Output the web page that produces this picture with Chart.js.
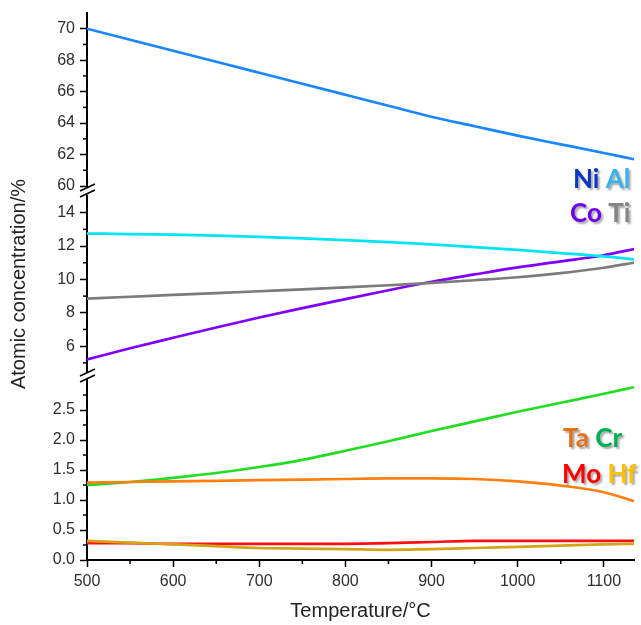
<!DOCTYPE html>
<html><head><meta charset="utf-8">
<script src="https://cdn.jsdelivr.net/npm/chart.js@4.4.0/dist/chart.umd.min.js"></script>
<style>
html,body{margin:0;padding:0;background:#fff;}
#wrap{position:relative;width:641px;height:625px;overflow:hidden;background:#fff;}
#wrap canvas{position:absolute;left:0;top:0;}
</style></head><body>
<div id="wrap">
<canvas id="c1" width="641" height="625"></canvas>
<canvas id="c2" width="641" height="625"></canvas>
<canvas id="c3" width="641" height="625"></canvas>
</div>
<script>
// ---- data ----
const temperatures = [500, 550, 600, 650, 700, 750, 800, 850, 900, 950, 1000, 1050, 1100, 1135];
const ni = [70.0, 69.3, 68.6, 67.9, 67.2, 66.5, 65.8, 65.1, 64.4, 63.8, 63.2, 62.65, 62.1, 61.7];
const al = [12.75, 12.72, 12.68, 12.62, 12.55, 12.46, 12.36, 12.24, 12.1, 11.94, 11.77, 11.58, 11.38, 11.2];
const co = [5.2, 5.87, 6.5, 7.12, 7.72, 8.28, 8.82, 9.35, 9.86, 10.3, 10.72, 11.08, 11.45, 11.82];
const ti = [8.85, 8.96, 9.07, 9.18, 9.29, 9.4, 9.52, 9.65, 9.79, 9.95, 10.13, 10.38, 10.7, 11.0];
const cr = [1.25, 1.3, 1.37, 1.45, 1.55, 1.67, 1.82, 1.98, 2.15, 2.31, 2.47, 2.62, 2.77, 2.88];
const ta = [1.29, 1.3, 1.31, 1.32, 1.33, 1.34, 1.35, 1.36, 1.36, 1.35, 1.31, 1.24, 1.13, 0.98];
const mo = [0.28, 0.28, 0.27, 0.27, 0.27, 0.27, 0.27, 0.28, 0.30, 0.32, 0.32, 0.32, 0.32, 0.32];
const hf = [0.32, 0.29, 0.26, 0.23, 0.20, 0.19, 0.18, 0.17, 0.18, 0.20, 0.22, 0.24, 0.26, 0.27];

const xTickValues = [500, 600, 700, 800, 900, 1000, 1100];
const xMinorValues = [550, 650, 750, 850, 950, 1050];
const topTickValues = [60, 62, 64, 66, 68, 70];
const topMinorValues = [61, 63, 65, 67, 69];
const midTickValues = [6, 8, 10, 12, 14];
const midMinorValues = [5, 7, 9, 11, 13];
const lowTickValues = [0, 0.5, 1.0, 1.5, 2.0, 2.5];
const lowMinorValues = [0.25, 0.75, 1.25, 1.75, 2.25, 2.75];

const FONT = "'Liberation Sans', Arial, sans-serif";
const LABEL_FONT = "bold 26px Lato, 'Open Sans', sans-serif";

function series(values, color) {
  return {
    data: temperatures.map((t, i) => ({x: t, y: values[i]})),
    borderColor: color, borderWidth: 2.7, pointRadius: 0, fill: false,
    tension: 0.4, cubicInterpolationMode: 'monotone'
  };
}

const extras = {
  id: 'extras',
  afterDraw(chart, args, o) {
    const ctx = chart.ctx, ys = chart.scales.y, xs = chart.scales.x;
    const ax = chart.chartArea.left;
    ctx.save();
    ctx.strokeStyle = '#000'; ctx.lineWidth = 1.5; ctx.lineCap = 'butt';
    const seg = (x1, y1, x2, y2) => { ctx.beginPath(); ctx.moveTo(x1, y1); ctx.lineTo(x2, y2); ctx.stroke(); };
    (o.yMinor || []).forEach(v => { const p = ys.getPixelForValue(v); seg(ax - 4, p, ax, p); });
    if (o.xMinor) o.xMinor.forEach(v => { const p = xs.getPixelForValue(v); seg(p, chart.chartArea.bottom, p, chart.chartArea.bottom + 4); });
    (o.breaks || []).forEach(yc => {
      ctx.lineWidth = 1.6;
      seg(ax - 7, yc + 1, ax + 8, yc - 6);
      seg(ax - 7, yc + 7, ax + 8, yc);
    });
    (o.labels || []).forEach(l => {
      ctx.font = LABEL_FONT;
      ctx.textBaseline = 'alphabetic'; ctx.textAlign = 'left';
      let x = l.x;
      l.parts.forEach(p => {
        ctx.shadowColor = 'rgba(0,0,0,0.35)'; ctx.shadowOffsetX = 2; ctx.shadowOffsetY = 2; ctx.shadowBlur = 2;
        ctx.fillStyle = p.color;
        ctx.fillText(p.text, x, l.y);
        x += ctx.measureText(p.text + ' ').width;
      });
      ctx.shadowColor = 'transparent';
    });
    ctx.restore();
  }
};

function yScale(min, max, tickValues, fmt, title) {
  return {
    type: 'linear', position: 'left', min: min, max: max,
    afterBuildTicks: s => { s.ticks = tickValues.map(v => ({value: v})); },
    afterFit: s => { s.width = 87; },
    border: {display: true, color: '#000', width: 2},
    grid: {drawOnChartArea: false, drawTicks: true, tickLength: 7, tickColor: '#000', tickWidth: 1.5},
    ticks: {color: '#2e2e2e', autoSkip: false, padding: 5, font: {family: FONT, size: 16, lineHeight: 1}, callback: fmt},
    title: title || {display: false}
  };
}

function hiddenX() {
  return {type: 'linear', min: 500, max: 1135, display: false};
}

function make(id, datasets, yOpts, xOpts, padding, plug) {
  return new Chart(document.getElementById(id), {
    type: 'line',
    data: {datasets: datasets},
    options: {
      responsive: false, animation: false, devicePixelRatio: 1, events: [],
      layout: {padding: padding},
      scales: {x: xOpts, y: yOpts},
      plugins: {legend: {display: false}, tooltip: {enabled: false}, extras: plug}
    },
    plugins: [extras]
  });
}

// top panel
make('c1', [series(ni, '#1a86ff')],
  yScale(60, 71, topTickValues, v => String(v)),
  hiddenX(), {top: 8, bottom: 625 - 186, left: 0, right: 7},
  {yMinor: topMinorValues, labels: [
    {x: 573, y: 188, parts: [{text: 'Ni', color: '#0a37c8'}, {text: 'Al', color: '#33b4f0'}]}
  ]});

// middle panel
make('c2', [series(al, '#00e4f4'), series(ti, '#7b7b7b'), series(co, '#7f00ff')],
  yScale(4.45, 15, midTickValues, v => String(v),
    {display: true, text: 'Atomic concentration/%', color: '#222', font: {family: FONT, size: 20, lineHeight: 1.2}, padding: {top: 7, bottom: 0}}),
  hiddenX(), {top: 196, bottom: 625 - 372, left: 0, right: 7},
  {yMinor: midMinorValues, breaks: [190, 375], labels: [
    {x: 570, y: 222, parts: [{text: 'Co', color: '#7000f0'}, {text: 'Ti', color: '#858585'}]}
  ]});

// bottom panel
make('c3', [series(hf, '#d4a418'), series(mo, '#ff1010'), series(ta, '#ff8010'), series(cr, '#22dd22')],
  yScale(0, 3, lowTickValues, v => Number(v).toFixed(1)),
  {
    type: 'linear', min: 500, max: 1135, position: 'bottom',
    afterBuildTicks: s => { s.ticks = xTickValues.map(v => ({value: v})); },
    afterFit: s => { s.height = 65; },
    border: {display: true, color: '#000', width: 2},
    grid: {drawOnChartArea: false, drawTicks: true, tickLength: 7, tickColor: '#000', tickWidth: 1.5},
    ticks: {color: '#2e2e2e', autoSkip: false, maxRotation: 0, padding: 7, font: {family: FONT, size: 16, lineHeight: 1}, callback: v => String(v)},
    title: {display: true, text: 'Temperature/°C', color: '#222', font: {family: FONT, size: 20, lineHeight: 1.2}, padding: {top: 0, bottom: 2}}
  },
  {top: 380, bottom: 0, left: 0, right: 7},
  {yMinor: lowMinorValues, xMinor: xMinorValues, labels: [
    {x: 563, y: 447, parts: [{text: 'Ta', color: '#e5711c'}, {text: 'Cr', color: '#00b050'}]},
    {x: 562, y: 483, parts: [{text: 'Mo', color: '#ff0000'}, {text: 'Hf', color: '#ffc000'}]}
  ]});
</script>
</body></html>
